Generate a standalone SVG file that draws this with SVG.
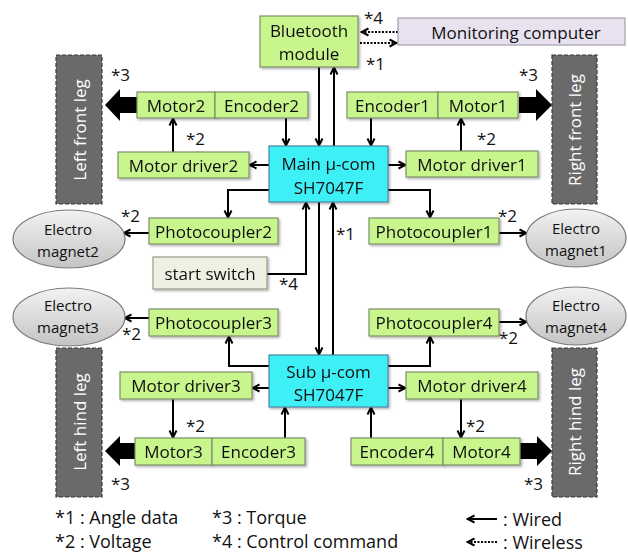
<svg xmlns="http://www.w3.org/2000/svg" width="628" height="556" viewBox="0 0 628 556">
<defs>
<style>
text{font-family:"Open Sans","Liberation Sans",sans-serif;fill:#111;}
.t{font-size:17px;text-anchor:middle;dominant-baseline:central;}
.s{font-size:15px;text-anchor:middle;dominant-baseline:central;}
.n{font-size:17px;dominant-baseline:central;}
.lg{font-size:18px;dominant-baseline:central;}
.leg{font-size:17px;fill:#fff;text-anchor:middle;dominant-baseline:central;}
.g{fill:#c8f58c;stroke:#7d8f6c;stroke-width:1.2;}
.c{fill:#3ef0f6;stroke:#4d86a6;stroke-width:1.2;}
.legbox{fill:#6a6a6a;stroke:#3a3a3a;stroke-width:1.2;stroke-dasharray:4 2;}
.em{fill:url(#eg);stroke:#7a7a7a;stroke-width:1.2;}
.w{fill:none;stroke:#000;stroke-width:2;marker-end:url(#ah);}
.d{fill:none;stroke:#000;stroke-width:2;stroke-dasharray:2 1.5;marker-end:url(#ah);}
.big{fill:#000;}
</style>
<marker id="ah" viewBox="0 0 10 10" refX="9" refY="5" markerWidth="5" markerHeight="5" orient="auto"><path d="M1.5,1.5 L8.5,5 L1.5,8.5" fill="none" stroke="#000" stroke-width="2"/></marker>
<linearGradient id="eg" x1="0" y1="0" x2="0" y2="1"><stop offset="0" stop-color="#f2f2f2"/><stop offset="1" stop-color="#c4c4c4"/></linearGradient>
<filter id="sh" x="-10%" y="-10%" width="130%" height="140%"><feDropShadow dx="1.5" dy="1.5" stdDeviation="1" flood-color="#000" flood-opacity="0.3"/></filter>
</defs>
<rect width="628" height="556" fill="#fff"/>

<g id="connectors">
<path class="w" d="M319,67 V146"/>
<path class="w" d="M334,146 V67"/>
<path class="w" d="M286,118 V146"/>
<path class="w" d="M371,118 V146"/>
<path class="w" d="M269,165 H249"/>
<path class="w" d="M388,165 H406"/>
<path class="w" d="M173,152 V118"/>
<path class="w" d="M461,151 V118"/>
<path class="w" d="M269,190 H228 V218"/>
<path class="w" d="M388,190 H430 V218"/>
<path class="w" d="M149,233 H123"/>
<path class="w" d="M499,233 H527"/>
<path class="w" d="M267,274 H306 V202"/>
<path class="w" d="M319,202 V355"/>
<path class="w" d="M333,355 V202"/>
<path class="w" d="M269,366 H229 V336"/>
<path class="w" d="M388,366 H430 V336"/>
<path class="w" d="M149,318 H124"/>
<path class="w" d="M499,322 H527"/>
<path class="w" d="M269,388 H252"/>
<path class="w" d="M388,388 H406"/>
<path class="w" d="M173,399 V438"/>
<path class="w" d="M461,399 V438"/>
<path class="w" d="M285,438 V407"/>
<path class="w" d="M371,438 V407"/>
<path class="d" d="M398,32 H361"/>
<path class="d" d="M360,43 H397"/>
<polygon class="big" points="137,97 120,97 120,89 105,105 120,121 120,113 137,113"/>
<polygon class="big" points="519,97 536,97 536,89 552,105 536,121 536,113 519,113"/>
<polygon class="big" points="135,443 120,443 120,436 105,451 120,466 120,459 135,459"/>
<polygon class="big" points="520,443 537,443 537,436 552,451 537,466 537,459 520,459"/>
</g>

<g id="monitoring">
<rect x="398" y="18" width="227" height="27" fill="#e8e2f0" stroke="#a59eb0" stroke-width="1.2"/>
<text class="t" x="516" y="32">Monitoring  computer</text>
</g>
<g id="bluetooth" filter="url(#sh)">
<rect class="g" x="260" y="16" width="98" height="51"/>
<text class="t" x="309" y="30">Bluetooth</text>
<text class="t" x="309" y="53">module</text>
</g>

<g id="leg-lf"><rect class="legbox" x="56" y="55" width="46" height="149"/><text class="leg" transform="translate(79,130) rotate(-90)">Left front leg</text></g>
<g id="leg-rf"><rect class="legbox" x="552" y="55" width="45" height="149"/><text class="leg" transform="translate(574.5,130) rotate(-90)">Right front leg</text></g>
<g id="leg-lh"><rect class="legbox" x="56" y="348" width="46" height="149"/><text class="leg" transform="translate(79,422) rotate(-90)">Left hind leg</text></g>
<g id="leg-rh"><rect class="legbox" x="552" y="348" width="45" height="149"/><text class="leg" transform="translate(574.5,422) rotate(-90)">Right hind leg</text></g>

<g id="motor2" filter="url(#sh)"><rect class="g" x="137" y="92" width="78" height="26"/><text class="t" x="176" y="105">Motor2</text></g>
<g id="encoder2" filter="url(#sh)"><rect class="g" x="215" y="92" width="93" height="26"/><text class="t" x="261.5" y="105">Encoder2</text></g>
<g id="encoder1" filter="url(#sh)"><rect class="g" x="347" y="92" width="91" height="26"/><text class="t" x="392.5" y="105">Encoder1</text></g>
<g id="motor1" filter="url(#sh)"><rect class="g" x="438" y="92" width="80" height="26"/><text class="t" x="478" y="105">Motor1</text></g>

<g id="driver2" filter="url(#sh)"><rect class="g" x="118" y="152" width="131" height="26"/><text class="t" x="183.5" y="165">Motor driver2</text></g>
<g id="driver1" filter="url(#sh)"><rect class="g" x="406" y="151" width="132" height="26"/><text class="t" x="472" y="164">Motor driver1</text></g>

<g id="main" filter="url(#sh)"><rect class="c" x="269" y="146" width="119" height="56"/><text class="t" x="328.5" y="163">Main μ-com</text><text class="t" x="328.5" y="187">SH7047F</text></g>

<g id="photo2" filter="url(#sh)"><rect class="g" x="149" y="218" width="129" height="26"/><text class="t" x="213.5" y="231">Photocoupler2</text></g>
<g id="photo1" filter="url(#sh)"><rect class="g" x="369" y="218" width="130" height="26"/><text class="t" x="434" y="231">Photocoupler1</text></g>

<g id="em2"><ellipse class="em" cx="69" cy="239" rx="56" ry="29"/><text class="s" x="68" y="229">Electro</text><text class="s" x="68" y="251">magnet2</text></g>
<g id="em3"><ellipse class="em" cx="69" cy="317" rx="56" ry="29"/><text class="s" x="68" y="305">Electro</text><text class="s" x="68" y="327">magnet3</text></g>
<g id="em1"><ellipse class="em" cx="576" cy="238" rx="50" ry="29"/><text class="s" x="576" y="228">Electro</text><text class="s" x="576" y="250">magnet1</text></g>
<g id="em4"><ellipse class="em" cx="576" cy="316" rx="50" ry="29"/><text class="s" x="576" y="305">Electro</text><text class="s" x="576" y="327">magnet4</text></g>

<g id="start" filter="url(#sh)"><rect x="153" y="257" width="114" height="32" fill="#eef0e2" stroke="#9a9a8a" stroke-width="1.2"/><text class="t" x="210" y="273">start switch</text></g>

<g id="photo3" filter="url(#sh)"><rect class="g" x="149" y="309" width="129" height="27"/><text class="t" x="213.5" y="322">Photocoupler3</text></g>
<g id="photo4" filter="url(#sh)"><rect class="g" x="369" y="309" width="130" height="27"/><text class="t" x="434" y="322">Photocoupler4</text></g>

<g id="sub" filter="url(#sh)"><rect class="c" x="269" y="355" width="119" height="52"/><text class="t" x="328.5" y="371">Sub μ-com</text><text class="t" x="328.5" y="394">SH7047F</text></g>

<g id="driver3" filter="url(#sh)"><rect class="g" x="120" y="372" width="132" height="27"/><text class="t" x="186" y="385.5">Motor driver3</text></g>
<g id="driver4" filter="url(#sh)"><rect class="g" x="406" y="372" width="132" height="27"/><text class="t" x="472" y="385.5">Motor driver4</text></g>

<g id="motor3" filter="url(#sh)"><rect class="g" x="135" y="438" width="77" height="27"/><text class="t" x="173.5" y="451.5">Motor3</text></g>
<g id="encoder3" filter="url(#sh)"><rect class="g" x="212" y="438" width="93" height="27"/><text class="t" x="258.5" y="451.5">Encoder3</text></g>
<g id="encoder4" filter="url(#sh)"><rect class="g" x="351" y="438" width="92" height="27"/><text class="t" x="397" y="451.5">Encoder4</text></g>
<g id="motor4" filter="url(#sh)"><rect class="g" x="443" y="438" width="77" height="27"/><text class="t" x="481.5" y="451.5">Motor4</text></g>

<g id="labels">
<text class="n" x="364" y="17">*4</text>
<text class="n" x="366" y="63">*1</text>
<text class="n" x="111" y="74">*3</text>
<text class="n" x="519" y="74">*3</text>
<text class="n" x="186" y="138">*2</text>
<text class="n" x="477" y="138">*2</text>
<text class="n" x="121" y="215">*2</text>
<text class="n" x="498" y="215">*2</text>
<text class="n" x="336" y="233">*1</text>
<text class="n" x="279" y="283">*4</text>
<text class="n" x="122" y="333">*2</text>
<text class="n" x="499" y="337">*2</text>
<text class="n" x="186" y="425">*2</text>
<text class="n" x="466" y="425">*2</text>
<text class="n" x="111" y="483">*3</text>
<text class="n" x="524" y="483">*3</text>
</g>

<g id="legend">
<text class="lg" x="55" y="517">*1 : Angle data</text>
<text class="lg" x="55" y="541">*2 : Voltage</text>
<text class="lg" x="212" y="517">*3 : Torque</text>
<text class="lg" x="212" y="541">*4 : Control command</text>
<path class="w" d="M497,519 H467"/>
<path class="d" d="M497,542 H467"/>
<text class="lg" x="503" y="519">: Wired</text>
<text class="lg" x="503" y="542">: Wireless</text>
</g>
</svg>
